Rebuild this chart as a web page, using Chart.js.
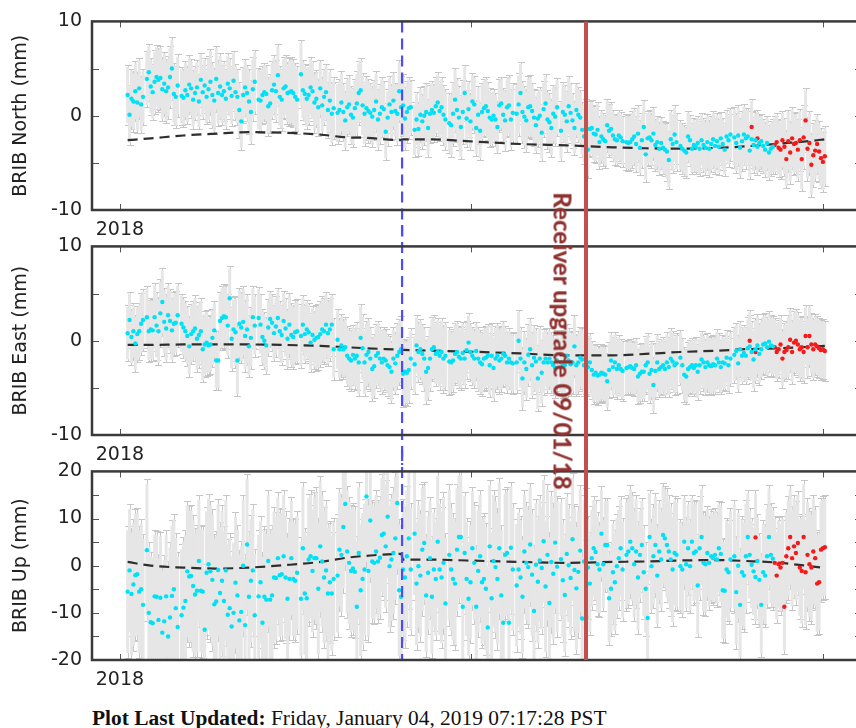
<!DOCTYPE html>
<html>
<head>
<meta charset="utf-8">
<script src="https://cdn.jsdelivr.net/npm/chart.js@4.4.1/dist/chart.umd.min.js"></script>
<style>
    html, body { margin: 0; padding: 0; background: #fff; overflow: hidden; }
    #wrap { position: relative; width: 856px; height: 728px; overflow: hidden; }
    #wrap canvas { position: absolute; left: 0; }
    #c1 { top: 0; }
    #c2 { top: 225px; }
    #c3 { top: 450px; }
    #note {
        position: absolute; top: 341px; white-space: nowrap;
        font-family: "Lato", sans-serif; font-weight: 900; font-size: 24px; color: #8e3230;
        transform: translate(-50%, -50%) rotate(90deg);
    }
    #footer {
        position: absolute; left: 92px; top: 707px; white-space: nowrap;
        font-family: "Liberation Serif", serif; font-size: 20px; line-height: 22px; color: #111;
        transform: scaleX(1.07); transform-origin: left top;
    }
</style>
</head>
<body>
<div id="wrap">
    <canvas id="c1" width="880" height="240"></canvas>
    <canvas id="c2" width="880" height="240"></canvas>
    <canvas id="c3" width="880" height="240"></canvas>
    <div id="note">Receiver upgrade 09/01/18</div>
    <div id="footer"><b>Plot Last Updated:</b> Friday, January 04, 2019 07:17:28 PST</div>
</div>
<script>
// days counted from 2018-01-01 (day 0); one daily solution per entry
var cyanFirstDay = 4;
var redFirstDay = 326;

var northCyan = [
    2.2, 0.1, 1.8, 1.5, 2.6, 1.4, 2.9,
    1.2, 2.0, null, 3.9, 4.6, 3.1, 2.5,
    3.6, 4.1, 3.8, 4.0, 2.8, 3.4, 2.6,
    3.0, 4.1, 5.0, 2.3, 2.0, 3.2, null,
    2.1, 1.9, 2.7, 2.2, 3.3, 2.9, 1.7,
    2.4, 3.0, 1.5, 3.8, 2.5, 3.2, 2.0,
    2.8, 3.6, 2.2, 1.6, 3.9, 2.4, 3.1,
    2.2, 2.6, 1.8, 3.4, 2.9, 2.1, 3.7,
    2.5, 2.0, 0.6, -0.6, 2.2, 3.0, 2.4,
    1.5, 0.4, 2.8, 3.6, null, 1.7, 1.6,
    2.2, 2.5, 2.3, 1.0, 1.3, 2.7, 3.3,
    2.6, 4.3, 2.0, 1.7, 2.9, 3.1, 2.4,
    2.5, 2.6, 2.4, 2.0, 1.7, null, 4.4,
    2.7, 2.3, 1.8, 2.2, 3.0, 2.6, 1.4,
    1.8, 0.9, 2.9, 1.1, 2.0, 2.5, 0.6,
    1.6, 0.2, 0.8, null, 0.3, 0.6, 1.4,
    0.4, -0.5, 0.9, 1.2, 0.1, -0.2, 0.8,
    1.3, 2.4, 2.7, 1.1, 0.2, 0.8, 0.5,
    0.3, -0.1, 0.6, 1.5, -0.4, 0.2, 0.9,
    0.7, -1.7, -0.2, 1.2, 0.4, 1.6, 0.5,
    0.2, 2.6, 0.9, 1.1, -0.3, 0.4, 0.8,
    0.9, null, -1.5, -0.4, -1.4, 0.1, -0.6,
    0.0, 0.4, -1.3, 0.2, 0.6, 0.3, 1.0,
    1.4, 0.5, 0.9, 0.1, -0.4, null, -0.8,
    -1.0, 0.2, 1.7, 0.6, -0.2, -1.2, 0.4,
    2.4, -0.3, 0.7, -0.6, 1.5, 1.2, -1.3,
    0.1, -1.6, 0.4, 0.8, 1.0, 0.5, -0.2,
    -0.4, 0.0, -0.4, -1.2, 1.1, 1.3, 0.1,
    -0.5, 0.9, 1.1, -0.4, 0.3, null, 0.2,
    1.2, 2.4, 0.4, -0.1, -0.5, 0.9, 1.0,
    0.5, -0.2, -1.0, -0.3, 0.0, -1.8, 0.7,
    1.3, -0.4, -0.7, -1.3, 0.2, -0.1, 0.9,
    null, -1.6, 0.4, 0.1, -0.6, 1.0, 0.3,
    -0.5, -1.3, 0.6, 0.1, -0.2, -1.5, -2.2,
    -1.2, -3.6, -1.4, -1.3, -1.9, -2.0, -1.5,
    -2.8, -2.2, -2.5, -2.7, -1.0, -1.6, -1.4,
    -2.1, -2.5, -2.6, -2.1, -2.3, -2.7, null,
    -2.8, -2.9, -2.8, -2.5, -2.2, -3.0, -1.9,
    -3.4, -2.6, -1.2, -4.1, -2.4, -2.3, -2.6,
    -1.9, -3.1, -2.8, -3.5, -2.9, -3.4, -3.6,
    -3.8, -4.7, -2.5, -3.0, -2.0, -2.8, null,
    -3.2, -3.5, -3.7, -3.9, -2.2, -2.6, -3.5,
    -3.1, -3.3, -2.9, -3.5, -2.6, -3.1, -3.4,
    -2.8, -3.5, -3.0, -2.5, -3.2, -2.7, -3.3,
    -2.4, -3.0, -3.6, -2.2, -2.6, -2.0, null,
    -2.3, -2.9, -2.1, -3.4, -2.7, -2.0, -2.4,
    -2.2, -3.7, -2.5, -3.1, -2.6, -3.3, -2.9,
    -2.7, -3.2, -3.6, -2.9, -3.9, -3.5, -3.3
];
var northRed = [
    null, null, -1.2, null, null, -2.4, null, null, null, null, null, null, null, null,
    -3.1, -2.8, -3.4, -3.6, -2.6, -3.3, -4.6, -2.7, -3.9, -2.4,
    -3.0, -2.9, -3.6, -2.6, -4.6, -2.3, -0.5, -3.5, -2.9, -5.2,
    -4.2, -3.7, -3.0, -3.8, -4.5, -4.9, -4.3
];

var eastCyan = [
    0.8, 2.2, 0.4, 1.0, -0.3, 0.7, 1.0,
    1.8, 2.2, null, 2.5, 1.0, 1.2, 1.1,
    2.5, 1.6, 1.0, 2.9, 4.1, 2.0, 1.3,
    2.7, 2.1, 1.1, 1.8, 1.9, 2.7, null,
    1.8, 1.4, 1.0, 0.5, -0.6, 0.7, 1.0,
    1.3, 0.2, 0.6, 1.0, -0.9, -0.4, -0.2,
    -0.5, -0.4, 0.3, 1.1, -2.1, -2.1, 2.1,
    2.4, 2.6, 2.5, 1.6, 4.5, 0.2, 1.2,
    0.9, -2.1, 1.8, 1.4, 2.0, 0.5, 1.2,
    -0.6, 0.3, 2.5, 1.6, null, 2.4, 1.7,
    0.4, 0.0, -0.5, 1.4, 2.3, 1.9, 0.8,
    1.5, 2.4, 1.0, 0.6, 2.1, 1.3, 0.2,
    1.7, 0.6, 0.4, 0.9, 1.0, null, 0.5,
    1.7, 0.7, 1.2, 0.9, -0.2, 0.6, 0.1,
    0.3, 0.4, 0.7, 1.2, 1.0, 1.7, 0.8,
    1.2, 1.7, -0.9, null, 0.1, -0.9, -0.5,
    -0.9, -0.7, -1.6, -1.9, -2.1, -1.5, -1.9,
    -1.6, -2.3, 0.3, -0.8, -2.3, -1.5, -1.2,
    -1.9, -3.0, -2.7, -1.6, -1.3, -1.9, -2.3,
    -1.9, -2.1, -2.6, -2.8, -3.3, -1.9, -2.4,
    -1.6, -1.2, -0.9, -3.5, -3.3, -3.4, -3.1,
    -1.9, null, -2.5, -0.5, -1.2, -0.9, -1.4,
    -1.9, -3.3, -2.9, -1.9, -0.9, -0.7, -1.4,
    -1.2, -1.6, -1.2, -1.9, -1.6, null, -2.2,
    -2.3, -2.1, -1.4, -1.2, -1.7, -1.9, -1.3,
    -1.9, -1.0, -0.2, -1.2, -1.6, -1.9, -1.1,
    -1.9, -2.3, -2.5, -1.9, -1.8, -1.6, -2.6,
    -1.6, -2.9, -1.9, -1.6, -2.1, -1.9, -1.4,
    -1.6, -2.3, -1.9, -2.3, -2.4, null, -2.3,
    0.0, -1.9, -4.0, -2.3, -3.0, -1.5, -0.9,
    -2.6, -1.8, -2.2, -4.0, -1.9, -3.4, -2.3,
    -1.9, -2.3, -1.9, -2.3, -2.6, -2.9, -2.1,
    null, -2.3, -2.7, -2.6, -1.6, -2.1, -2.5,
    -2.3, -0.6, -2.6, -2.3, -1.8, -2.0, -2.6,
    -2.6, -2.8, -2.3, -3.1, -3.6, -3.4, -3.7,
    -3.6, -3.4, -3.5, -3.6, -4.3, -3.1, -2.1,
    -2.8, -2.3, -3.0, -2.6, -3.0, -3.2, null,
    -2.9, -2.8, -2.7, -2.9, -3.0, -2.6, -3.8,
    -3.5, -3.3, -3.3, -2.6, -2.3, -3.5, -3.1,
    -4.7, -3.2, -2.3, -3.0, -2.8, -2.6, -3.0,
    -2.3, -2.8, -1.9, -2.2, -2.6, -2.4, null,
    -1.8, -2.6, -3.6, -3.8, -3.0, -2.8, -2.6,
    -2.9, -2.6, -3.3, -2.6, -2.0, -2.3, -2.8,
    -2.3, -2.6, -2.7, -2.5, -2.6, -1.9, -2.3,
    -2.8, -2.3, -2.4, -1.8, -2.6, -1.9, null,
    -1.5, -1.1, -2.4, -0.9, -1.6, -1.3, -1.6,
    -0.8, -0.6, -1.2, -2.0, -0.9, -0.5, -1.4,
    -0.9, -0.4, -0.3, -0.7, -0.1, -0.5, -0.6
];
var eastRed = [
    null, 0.0, null, null, -1.2, null, null, null, null, null, null, null, null, null,
    -0.7, -1.2, -0.9, -0.4, -1.9, -1.2, -1.0, -0.7, 0.1, -1.2,
    -0.2, 0.0, -0.4, -0.9, -0.7, -1.2, 0.5, -0.7, 0.5, -0.4,
    -0.9, -0.4, -0.6, -0.8, -1.0, -0.9, -1.1
];

var upCyan = [
    -5.5, -1.0, -6.0, -4.0, -2.0, -1.8, -5.5,
    -5.0, -8.3, null, 3.3, -10.0, -12.0, -12.2,
    -6.5, -6.6, -11.5, -6.8, -14.2, -11.8, -6.5,
    -15.0, -11.0, -6.4, -5.0, -9.0, -13.0, null,
    -10.5, -8.9, -7.5, -1.2, -2.3, -2.2, -4.3,
    -6.1, -5.3, 1.0, -5.3, -5.5, -13.6, -1.5,
    0.3, -1.2, -3.0, -8.2, -7.6, -0.9, -5.8,
    -3.2, -7.5, -1.0, -10.4, -9.0, -12.9, -10.0,
    -3.6, -6.3, -11.6, -9.8, 0.0, -12.6, 4.5,
    -6.6, -3.2, -1.0, -10.5, null, -6.5, -3.5,
    -12.1, -6.6, -7.2, 1.0, -7.2, -6.3, -2.5,
    -2.6, 1.6, -2.0, -1.8, 2.0, -2.5, -7.0,
    -2.8, 1.6, -2.8, -3.2, -1.5, null, -7.0,
    3.7, -5.9, -6.9, 1.3, 2.0, -1.1, 1.6,
    1.6, -4.9, 4.1, 0.9, -2.5, -1.0, -5.9,
    -3.5, -5.9, -2.8, null, -2.1, 3.4, 2.3,
    8.2, 13.1, 3.0, 0.6, -1.1, -0.6, -1.3,
    -8.7, 2.7, -5.2, -2.8, -0.8, 14.7, -1.1,
    9.6, 0.9, 0.6, 3.0, 0.9, 1.7, 6.5,
    6.8, 4.1, 10.4, -0.1, 1.3, 2.7, 5.8,
    13.3, -5.2, -6.6, -0.8, -2.5, 2.0, 5.8,
    -0.8, null, 6.8, -3.8, -0.1, -2.1, 3.4,
    4.8, -6.3, -1.5, 1.6, -6.6, -0.8, -2.8,
    5.1, -0.8, -2.5, 0.6, -8.0, null, 2.3,
    -0.8, -2.8, -3.8, 3.4, 6.1, 6.1, -8.7,
    2.7, -2.8, -7.0, -3.5, 3.7, 0.6, -8.7,
    -1.1, 2.0, -3.5, -2.8, -4.9, -13.1, 4.1,
    -6.9, 1.0, -0.3, -2.8, 3.7, -6.3, -12.1,
    2.3, 2.7, -12.1, 3.8, -0.8, null, -4.2,
    -0.8, -2.5, -6.6, 3.0, 0.6, -0.3, 4.5,
    -1.9, -9.6, 0.2, -3.4, 1.1, -0.5, 5.2,
    -4.4, 2.3, -7.9, 0.8, -1.7, 4.9, -0.2,
    null, 1.4, -3.1, -6.2, 2.5, 0.1, -2.6,
    5.6, -0.9, -4.8, -1.3, 3.2, -11.2, 0.9,
    5.4, -0.4, -3.8, 1.6, 3.7, 2.9, 0.3,
    -0.8, 6.8, 0.3, 4.4, 4.4, -6.9, -4.9,
    -1.4, -3.5, -0.1, 1.6, 3.7, -0.8, null,
    2.3, 3.0, 5.1, 3.7, 0.3, 3.0, -2.5,
    2.3, 4.4, -1.4, -4.9, -11.1, 6.1, -0.1,
    2.0, 4.4, -2.1, 3.0, 1.3, 6.5, 5.8,
    4.4, 3.0, 1.3, -0.8, 2.7, 2.3, null,
    -0.1, -0.8, 5.1, 0.3, 3.7, -0.1, 5.1,
    2.7, 3.0, -4.2, 3.7, 6.1, 0.6, 0.3,
    2.7, 0.6, 2.0, 1.6, 2.3, 1.3, 3.7,
    2.5, -5.2, -5.3, -0.8, -1.4, 1.3, null,
    2.0, -5.6, 0.0, -8.3, -1.4, -2.1, 2.0,
    6.1, 2.3, 0.2, -1.2, -2.4, 1.0, -3.0,
    -8.3, -1.4, -2.1, 2.0, 6.1, 2.3, 1.5
];
var upRed = [
    null, null, null, null, 6.0, null, null, null, null, null, null, null, null, null,
    0.6, -2.1, 0.3, -0.4, 0.6, -8.7, 2.0, 3.7, 6.1, 1.6,
    4.1, 2.7, 4.8, -0.4, -1.1, 6.1, -1.4, 2.3, 0.3, -0.4,
    3.0, 1.6, -3.8, -3.5, 3.4, 3.7, 3.9
];

// one-sigma error (mm), one value per week counted from cyanFirstDay
var northErr = [3.2, 3.0, 3.4, 3.3, 3.1, 2.9, 3.5, 3.2, 3.0, 3.4, 3.1, 3.3, 3.6, 3.2, 3.0, 3.3, 3.1, 3.4,
    3.2, 3.0, 3.3, 2.9, 3.1, 3.2, 3.4, 3.0, 3.1, 2.8, 3.2, 3.3, 3.0, 3.1, 3.2, 2.9, 3.0, 2.8,
    2.7, 3.0, 2.9, 2.8, 3.1, 2.7, 2.9, 3.0, 2.8, 3.2, 3.0, 2.9, 3.1, 3.3, 3.4, 3.2];
var eastErr = [3.0, 3.3, 3.6, 3.4, 3.2, 3.5, 3.1, 3.4, 3.8, 3.3, 3.0, 3.2, 3.4, 3.1, 3.5, 3.3, 3.2, 3.6,
    3.4, 3.3, 3.5, 3.2, 3.4, 3.6, 3.3, 3.1, 3.4, 3.5, 3.2, 3.3, 3.5, 3.2, 3.4, 3.3, 3.1, 3.0,
    3.2, 2.9, 3.1, 3.0, 3.2, 2.9, 3.0, 3.1, 2.9, 3.0, 3.3, 3.2, 3.1, 3.4, 3.3, 3.2];
var upErr = [14, 15, 14, 16, 15, 14, 15, 16, 15, 14, 15, 14, 13, 14, 15, 13, 14, 15,
    13, 14, 15, 14, 13, 15, 14, 13, 14, 15, 14, 13, 14, 15, 13, 14, 11, 10,
    11, 12, 10, 11, 12, 10, 11, 10, 11, 12, 10, 11, 10, 11, 12, 11];

// model (dashed) read at these days
var fitDays = [4, 16, 33, 50, 67, 85, 104, 118, 128, 146, 147, 161, 180, 208, 232, 256, 273, 291, 311, 325, 343, 360, 366];
var northFit = [-2.6, -2.4, -2.1, -1.9, -1.75, -1.8, -2.0, -2.3, -2.35, -2.6, -2.5, -2.5, -2.7, -3.0, -3.15, -3.35, -3.45, -3.5, -3.4, -3.25, -2.95, -2.65, -2.5];
var eastFit = [-0.45, -0.45, -0.4, -0.4, -0.4, -0.45, -0.55, -0.7, -0.8, -0.96, -0.97, -1.05, -1.15, -1.35, -1.55, -1.55, -1.4, -1.2, -1.05, -0.9, -0.8, -0.62, -0.55];
var upFit = [0.8, 0.0, -0.4, -0.6, -0.4, 0.1, 0.8, 1.7, 2.1, 2.5, 1.3, 1.3, 1.1, 0.8, 0.6, 0.8, 0.9, 1.1, 1.2, 1.0, 0.6, -0.2, -0.5];

var xMin = -14.5;
var xMax = 385.3;
var xTickDays = [0, 182.5, 365];
var xLabelDays = [0];
var xLabelText = "2018";
var eventDay = 146.5;
var upgradeDay = 242;

function toPoints(firstDay, values, errs) {
    var points = [];
    for (var i = 0; i < values.length; i++) {
        if (values[i] === null) continue;
        var day = firstDay + i;
        var week = Math.min(errs.length - 1, Math.floor((day - cyanFirstDay) / 7));
        points.push({x: day, y: values[i], e: errs[week]});
    }
    return points;
}

var marksPlugin = {
    id: "marks",
    beforeDatasetsDraw: function (chart) {
        var ctx = chart.ctx, a = chart.chartArea, x = chart.scales.x, y = chart.scales.y;
        ctx.save();
        ctx.beginPath();
        ctx.rect(a.left, a.top, a.right - a.left, a.bottom - a.top);
        ctx.clip();
        var all = [];
        chart.data.datasets.forEach(function (d) {
            if (d.errorBars) all = all.concat(d.data);
        });
        // whiskers first, then the light fill hides them where neighbours overlap
        ctx.strokeStyle = "#c6c6c6";
        ctx.lineWidth = 1;
        ctx.beginPath();
        all.forEach(function (p) {
            var px = Math.round(x.getPixelForValue(p.x)) + 0.5;
            var top = Math.round(y.getPixelForValue(p.y + p.e)) + 0.5;
            var bot = Math.round(y.getPixelForValue(p.y - p.e)) + 0.5;
            ctx.moveTo(px, top); ctx.lineTo(px, bot);
            ctx.moveTo(px - 3.5, top); ctx.lineTo(px + 3.5, top);
            ctx.moveTo(px - 3.5, bot); ctx.lineTo(px + 3.5, bot);
        });
        ctx.stroke();
        ctx.fillStyle = "#e6e6e6";
        all.forEach(function (p) {
            var px = x.getPixelForValue(p.x);
            var top = y.getPixelForValue(p.y + p.e * 0.93), bot = y.getPixelForValue(p.y - p.e * 0.93);
            ctx.fillRect(px - 1.5, top, 3, bot - top);
        });
        ctx.restore();
    },
    afterDatasetsDraw: function (chart) {
        var o = chart.options.plugins.marks;
        var ctx = chart.ctx, a = chart.chartArea, x = chart.scales.x, y = chart.scales.y;
        var lineTop = o.spanTop ? 0 : a.top;
        var lineBot = o.spanBottom ? chart.height : a.bottom;
        ctx.save();
        // event line
        ctx.strokeStyle = "#4b4bff";
        ctx.lineWidth = 2.2;
        ctx.setLineDash([11, 6]);
        ctx.beginPath();
        ctx.moveTo(x.getPixelForValue(eventDay), lineTop);
        ctx.lineTo(x.getPixelForValue(eventDay), lineBot);
        ctx.stroke();
        ctx.setLineDash([]);
        // frame and inward ticks
        ctx.strokeStyle = "#555";
        ctx.lineWidth = 1;
        ctx.beginPath();
        xTickDays.forEach(function (d) {
            var px = Math.round(x.getPixelForValue(d)) + 0.5;
            ctx.moveTo(px, a.top); ctx.lineTo(px, a.top + 6);
            ctx.moveTo(px, a.bottom); ctx.lineTo(px, a.bottom - 6);
        });
        o.yTicks.forEach(function (v) {
            var py = Math.round(y.getPixelForValue(v)) + 0.5;
            ctx.moveTo(a.left, py); ctx.lineTo(a.left + 7, py);
            ctx.moveTo(a.right, py); ctx.lineTo(a.right - 7, py);
        });
        ctx.stroke();
        ctx.strokeStyle = "#3a3a3a";
        ctx.lineWidth = 2.5;
        ctx.strokeRect(a.left, a.top, a.right - a.left, a.bottom - a.top);
        // receiver upgrade line
        ctx.strokeStyle = "#c0504d";
        ctx.lineWidth = 4;
        ctx.beginPath();
        ctx.moveTo(x.getPixelForValue(upgradeDay), lineTop);
        ctx.lineTo(x.getPixelForValue(upgradeDay), lineBot);
        ctx.stroke();
        ctx.restore();
    }
};

function makePanel(id, title, cyan, red, errs, fit, yMin, yMax, yTicks, spanTop, spanBottom) {
    var font = {family: "DejaVu Sans", size: 19};
    return new Chart(document.getElementById(id), {
        type: "scatter",
        data: {
            datasets: [{
                data: toPoints(cyanFirstDay, cyan, errs),
                errorBars: true,
                backgroundColor: "#00e1f5",
                pointRadius: 2.2,
                pointBorderWidth: 0,
                order: 0
            }, {
                data: toPoints(redFirstDay, red, errs),
                errorBars: true,
                backgroundColor: "#f51a1a",
                pointRadius: 2.2,
                pointBorderWidth: 0,
                order: 1
            }, {
                type: "line",
                data: fitDays.map(function (d, i) { return {x: d, y: fit[i]}; }),
                borderColor: "#2e2e2e",
                borderWidth: 2.2,
                borderDash: [10, 6],
                pointRadius: 0,
                cubicInterpolationMode: "monotone",
                order: 2
            }]
        },
        options: {
            responsive: false,
            animation: false,
            devicePixelRatio: 1,
            layout: {padding: {top: 16, right: 18, left: 0, bottom: 0}},
            plugins: {
                legend: {display: false},
                tooltip: {enabled: false},
                marks: {yTicks: yTicks, spanTop: spanTop, spanBottom: spanBottom}
            },
            scales: {
                x: {
                    type: "linear",
                    min: xMin,
                    max: xMax,
                    grid: {display: false, drawTicks: false},
                    border: {display: false},
                    afterBuildTicks: function (s) {
                        s.ticks = xLabelDays.map(function (d) { return {value: d}; });
                    },
                    afterFit: function (s) { s.height = 30; },
                    ticks: {
                        callback: function () { return xLabelText; },
                        font: font, color: "#222", padding: 9, maxRotation: 0, autoSkip: false
                    }
                },
                y: {
                    min: yMin,
                    max: yMax,
                    grid: {display: false, drawTicks: false},
                    border: {display: false},
                    afterFit: function (s) { s.width = 92; },
                    ticks: {stepSize: 10, font: font, color: "#222", padding: 10},
                    title: {display: true, text: title, font: font, color: "#222", padding: {top: 10, bottom: 0}}
                }
            }
        },
        plugins: [marksPlugin]
    });
}

var north = makePanel("c1", "BRIB North (mm)", northCyan, northRed, northErr, northFit, -10, 10,
    [-10, -5, 0, 5, 10], false, true);
var east = makePanel("c2", "BRIB East (mm)", eastCyan, eastRed, eastErr, eastFit, -10, 10,
    [-10, -5, 0, 5, 10], true, true);
var up = makePanel("c3", "BRIB Up (mm)", upCyan, upRed, upErr, upFit, -20, 20,
    [-20, -15, -10, -5, 0, 5, 10, 15, 20], true, false);

document.getElementById("note").style.left = (east.scales.x.getPixelForValue(upgradeDay) - 23) + "px";
</script>
</body>
</html>
